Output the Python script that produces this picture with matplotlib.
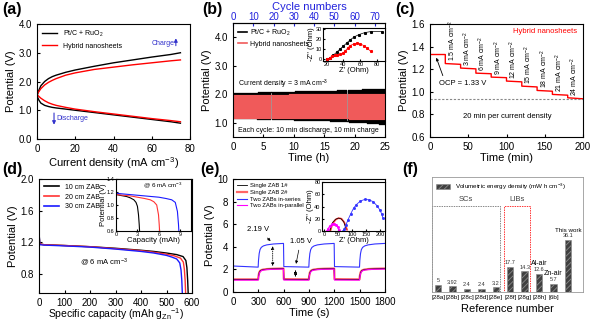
import numpy as np
import matplotlib
matplotlib.use('Agg')
import matplotlib.pyplot as plt
from matplotlib.patches import Rectangle, Patch

plt.rcParams['font.family'] = ['Liberation Sans', 'DejaVu Sans']
plt.rcParams['mathtext.default'] = 'regular'
plt.rcParams['axes.linewidth'] = 0.8
plt.rcParams['xtick.direction'] = 'in'
plt.rcParams['ytick.direction'] = 'in'
plt.rcParams['xtick.major.size'] = 2.5
plt.rcParams['ytick.major.size'] = 2.5
plt.rcParams['xtick.labelsize'] = 7
plt.rcParams['ytick.labelsize'] = 7
plt.rcParams['axes.labelsize'] = 8
plt.rcParams['hatch.linewidth'] = 0.6

# ---------------- data ----------------
# (a) polarization curves
cur_a = [0, 1, 2, 4, 6, 8, 10, 15, 20, 30, 40, 50, 60, 70, 75]
pt_charge = [1.5, 1.7, 1.85, 2.0, 2.1, 2.17, 2.22, 2.32, 2.4, 2.53, 2.65, 2.75, 2.85, 2.94, 3.0]
hy_charge = [1.55, 1.65, 1.75, 1.88, 1.97, 2.04, 2.1, 2.22, 2.3, 2.42, 2.5, 2.58, 2.65, 2.72, 2.75]
pt_dis = [1.5, 1.35, 1.25, 1.17, 1.13, 1.1, 1.08, 1.04, 1.0, 0.92, 0.84, 0.76, 0.68, 0.6, 0.55]
hy_dis = [1.55, 1.48, 1.42, 1.33, 1.26, 1.21, 1.17, 1.1, 1.04, 0.95, 0.87, 0.79, 0.71, 0.64, 0.6]

# (b) cycling, readings per hour (3 cycles per hour)
pt_low = [1.16, 1.16, 1.15, 1.15, 1.14, 1.14, 1.13, 1.13, 1.12, 1.12, 1.11, 1.1, 1.1,
          1.09, 1.08, 1.08, 1.07, 1.06, 1.05, 1.04, 1.03, 1.02, 1.0, 0.98, 0.95]
pt_high = [2.05, 2.05, 2.06, 2.06, 2.07, 2.07, 2.08, 2.08, 2.09, 2.09, 2.1, 2.1, 2.11,
           2.11, 2.12, 2.12, 2.13, 2.14, 2.14, 2.15, 2.16, 2.17, 2.18, 2.19, 2.2]
hy_low = [1.18, 1.18, 1.18, 1.18, 1.17, 1.17, 1.17, 1.17, 1.17, 1.16, 1.16, 1.16, 1.16,
          1.16, 1.15, 1.15, 1.15, 1.15, 1.15, 1.14, 1.14, 1.14, 1.13, 1.13, 1.12]
hy_high = [1.98, 1.98, 1.98, 1.98, 1.99, 1.99, 1.99, 1.99, 1.99, 2.0, 2.0, 2.0, 2.0,
           2.0, 2.0, 2.0, 2.01, 2.01, 2.01, 2.01, 2.01, 2.02, 2.02, 2.02, 2.02]
# (b) inset EIS
zre_pt = [21, 24, 28, 32, 36, 40, 44, 48, 53, 58, 65, 72, 86]
zim_pt = [0, 1.5, 4, 7, 10, 13, 16, 19, 22, 24, 26, 27, 27]
zre_hy = [21, 24, 27, 30, 33, 36, 39, 42, 45, 48, 52, 56, 60, 64, 68, 72]
zim_hy = [0, 1.5, 3, 4, 4.5, 5, 6, 8, 11, 13.5, 15, 15.5, 15, 13.5, 11, 8]

# (c) step discharge
step_cd = ['1.5', '3', '6', '9', '12', '15', '18', '21', '24']
step_start = [1.33, 1.25, 1.21, 1.165, 1.13, 1.095, 1.05, 1.012, 0.977, 0.947]
step_end = [1.33, 1.243, 1.203, 1.16, 1.125, 1.088, 1.043, 1.005, 0.97, 0.938]

# (d) discharge curves
cap_10 = [0, 3, 20, 100, 200, 300, 400, 450, 500, 540, 565, 576, 580, 583, 585]
v_10 = [1.33, 1.18, 1.17, 1.16, 1.145, 1.125, 1.1, 1.085, 1.065, 1.045, 1.02, 0.97, 0.88, 0.72, 0.56]
cap_20 = [0, 3, 20, 100, 200, 300, 400, 450, 500, 530, 555, 566, 570, 573, 575]
v_20 = [1.3, 1.18, 1.17, 1.16, 1.145, 1.12, 1.095, 1.075, 1.05, 1.03, 1.0, 0.95, 0.86, 0.72, 0.56]
cap_30 = [0, 3, 20, 100, 200, 300, 400, 450, 500, 520, 540, 552, 557, 560, 562]
v_30 = [1.33, 1.17, 1.165, 1.155, 1.14, 1.115, 1.085, 1.065, 1.035, 1.015, 0.99, 0.94, 0.85, 0.72, 0.56]
# (d) inset
icap_10 = [0, 0.1, 0.5, 1, 1.5, 2, 2.5, 2.8, 3.0, 3.15, 3.25, 3.3]
iv_10 = [1.2, 1.16, 1.15, 1.14, 1.13, 1.11, 1.08, 1.04, 0.98, 0.85, 0.7, 0.6]
icap_20 = [0, 0.1, 1, 2, 3, 4, 4.8, 5.3, 5.7, 5.95, 6.05, 6.1]
iv_20 = [1.2, 1.16, 1.15, 1.14, 1.12, 1.1, 1.08, 1.05, 1.0, 0.85, 0.7, 0.6]
icap_30 = [0, 0.1, 1, 2, 3, 4, 5, 6, 7, 7.8, 8.3, 8.6, 8.75, 8.8]
iv_30 = [1.22, 1.18, 1.17, 1.16, 1.15, 1.14, 1.13, 1.12, 1.1, 1.08, 1.04, 0.9, 0.7, 0.6]

# (e) single / series / parallel
t_e = [0, 298, 302, 310, 320, 335, 360, 400, 480, 598, 602, 898, 902, 910, 920, 935, 960,
       1000, 1080, 1198, 1202, 1498, 1502, 1510, 1520, 1535, 1560, 1600, 1680, 1800]
v_single1 = [1.1, 1.1, 1.4, 1.7, 1.85, 1.93, 1.98, 2.02, 2.05, 2.07, 1.12, 1.1, 1.4, 1.7, 1.85,
             1.93, 1.98, 2.02, 2.05, 2.07, 1.12, 1.1, 1.4, 1.7, 1.85, 1.93, 1.98, 2.02, 2.05, 2.08]
v_single2 = [1.12, 1.12, 1.42, 1.72, 1.86, 1.94, 1.99, 2.03, 2.06, 2.08, 1.14, 1.12, 1.42, 1.72, 1.86,
             1.94, 1.99, 2.03, 2.06, 2.08, 1.14, 1.12, 1.42, 1.72, 1.86, 1.94, 1.99, 2.03, 2.06, 2.08]
v_series = [2.3, 2.2, 2.8, 3.4, 3.75, 3.95, 4.08, 4.17, 4.25, 4.3, 2.25, 2.2, 2.8, 3.4, 3.75,
            3.95, 4.08, 4.17, 4.25, 4.3, 2.25, 2.2, 2.8, 3.4, 3.75, 3.95, 4.08, 4.17, 4.25, 4.3]
v_parallel = [1.05, 1.05, 1.3, 1.6, 1.78, 1.88, 1.94, 1.98, 2.01, 2.03, 1.06, 1.05, 1.3, 1.6, 1.78,
              1.88, 1.94, 1.98, 2.01, 2.03, 1.06, 1.05, 1.3, 1.6, 1.78, 1.88, 1.94, 1.98, 2.01, 2.03]
# (e) inset EIS
zre_s1 = [20, 25, 30, 40, 50, 60, 70, 75, 78]
zim_s1 = [0, 8, 14, 19, 21, 20, 15, 8, 3]
zre_s2 = [22, 27, 33, 42, 52, 62, 72, 78, 82]
zim_s2 = [0, 8, 14, 19, 21, 20, 14, 7, 2]
zre_ser = [68, 72, 78, 85, 95, 105, 115, 130, 145, 160, 175, 190, 200, 207, 210]
zim_ser = [0, 3, 10, 18, 28, 37, 43, 49, 51.5, 51, 48, 41, 34, 27, 22]
zre_par = [10, 14, 20, 28, 36, 44, 50, 53]
zim_par = [0, 4, 8, 11, 12, 10, 6, 2]

# (f) volumetric energy density
refs = ['[28a]', '[28b]', '[28c]', '[28d]', '[28e]', '[28f]', '[28g]', '[28h]', '[6b]', '']
energy = [5, 3.92, 2.4, 2.4, 3.2, 17.7, 14.3, 12.6, 5.7, 36.1]
energy_txt = ['5', '3.92', '2.4', '2.4', '3.2', '17.7', '14.3', '12.6', '5.7', '36.1']

# ---------------- figure ----------------
W, H = 600, 323
fig = plt.figure(figsize=(6, 3.23), dpi=100)


def px_axes(x0, y0, x1, y1):
    return fig.add_axes([x0 / W, 1 - y1 / H, (x1 - x0) / W, (y1 - y0) / H])


def plab(x, y, s):
    fig.text(x / W, 1 - y / H, s, fontsize=11.5, fontweight='bold', va='top', ha='left')


RED = '#ff0000'
BLUE = '#1a1aff'

# (a)
ax = px_axes(37, 24, 190, 139)
ax.plot(cur_a, pt_charge, color='k', lw=1)
ax.plot(cur_a, hy_charge, color=RED, lw=1)
ax.plot(cur_a, pt_dis, color='k', lw=1, label='Pt/C + RuO$_2$')
ax.plot(cur_a, hy_dis, color=RED, lw=1, label='Hybrid nanosheets')
ax.set_xlim(0, 80)
ax.set_ylim(0, 4)
ax.set_yticks([0, 1, 2, 3, 4])
ax.set_yticklabels(['0.0', '1.0', '2.0', '3.0', '4.0'])
ax.set_xlabel('Current density (mA cm$^{-3}$)', labelpad=1)
ax.set_ylabel('Potential (V)', labelpad=2)
ax.legend(loc='upper left', fontsize=5, frameon=False, handlelength=2.2,
          borderaxespad=0.3, labelspacing=0.5)
ax.text(60, 3.33, 'Charge', color='#3333cc', fontsize=5, va='center')
ax.annotate('', xy=(72.6, 3.6), xytext=(72.6, 3.15),
            arrowprops=dict(arrowstyle='-|>', color='#3333cc', lw=0.8, mutation_scale=5))
ax.text(10, 0.7, 'Discharge', color='#3333cc', fontsize=5, va='center')
ax.annotate('', xy=(8.9, 0.4), xytext=(8.9, 1.0),
            arrowprops=dict(arrowstyle='-|>', color='#3333cc', lw=0.8, mutation_scale=5))
plab(2, 2, '(a)')

# (b)
ax = px_axes(233, 23, 385, 137)


def square_wave(lows, highs):
    lo = np.repeat(lows, 3)
    hi = np.repeat(highs, 3)
    t, v = [], []
    for i in range(len(lo)):
        t += [i * 20, i * 20 + 10, i * 20 + 10, i * 20 + 20]
        v += [lo[i], lo[i], hi[i], hi[i]]
    return np.array(t) / 60.0, np.array(v)


tb, vb = square_wave(pt_low, pt_high)
tr, vr = square_wave(hy_low, hy_high)
ax.plot(tb, vb, color='k', lw=1.0, label='Pt/C + RuO$_2$')
ax.plot(tr, vr, color='#f05a5a', lw=0.9, label='Hybrid nanosheets')
ax.set_xlim(0, 25)
ax.set_ylim(0.5, 4.5)
ax.set_yticks([1, 2, 3, 4])
ax.set_yticklabels(['1.0', '2.0', '3.0', '4.0'])
ax.set_xticks([0, 5, 10, 15, 20, 25])
ax.set_xlabel('Time (h)', labelpad=1)
ax.set_ylabel('Potential (V)', labelpad=2)
leg = ax.legend(loc='upper left', fontsize=5, frameon=False, handlelength=1.3,
                handletextpad=0.5, borderaxespad=0.3, labelspacing=0.4)
for ln in leg.get_lines():
    ln.set_linewidth(1.2)
ax.text(0.8, 2.35, 'Current density = 3 mA cm$^{-3}$', fontsize=5, va='center')
ax.text(0.8, 0.72, 'Each cycle: 10 min discharge, 10 min charge', fontsize=5, va='center')
top = ax.secondary_xaxis('top', functions=(lambda h: h * 3, lambda c: c / 3))
top.set_xticks([0, 10, 20, 30, 40, 50, 60, 70])
top.tick_params(colors='#2222dd', direction='in', labelsize=7, pad=1)
top.set_xlabel('Cycle numbers', color='#2222dd', fontsize=8, labelpad=1)
# inset
axi = px_axes(323, 28, 385, 61)
axi.plot(zre_pt, zim_pt, color='k', lw=0.5, marker='s', ms=1.2)
axi.plot(zre_hy, zim_hy, color=RED, lw=0.5, marker='s', ms=1.2)
axi.set_xlim(16, 89)
axi.set_ylim(-1.5, 30.5)
axi.set_xticks([20, 40, 60, 80])
axi.set_yticks([0, 10, 20, 30])
axi.tick_params(labelsize=4, length=1.5, pad=1)
axi.set_xlabel("Z' (Ohm)", fontsize=5.5, labelpad=0)
axi.set_ylabel("-Z'' (Ohm)", fontsize=5.5, labelpad=0)
plab(202, 2, '(b)')

# (c)
ax = px_axes(430, 24, 583, 137)
tc, vc = [], []
for i in range(len(step_start)):
    tc += [i * 20, i * 20 + 20]
    vc += [step_start[i], step_end[i]]
ax.plot(tc, vc, color=RED, lw=1)
ax.axhline(0.935, color='#888888', lw=0.8, ls=(0, (2, 1.5)))
ax.set_xlim(0, 200)
ax.set_ylim(0.6, 1.6)
ax.set_yticks([0.6, 0.8, 1.0, 1.2, 1.4, 1.6])
ax.set_yticklabels(['0.6', '0.8', '1.0', '1.2', '1.4', '1.6'])
ax.set_xticks([0, 50, 100, 150, 200])
ax.set_xlabel('Time (min)', labelpad=1)
ax.set_ylabel('Potential (V)', labelpad=2)
for i, cd in enumerate(step_cd):
    ax.text(29 + i * 20, step_start[i + 1] + 0.02, cd + ' mA cm$^{-2}$', rotation=90,
            fontsize=5, ha='center', va='bottom')
ax.text(150, 1.53, 'Hybrid nanosheets', color=RED, fontsize=5.5, ha='center', va='center')
ax.text(12, 1.07, 'OCP = 1.33 V', fontsize=5.5, va='center')
ax.annotate('', xy=(7, 1.325), xytext=(18, 1.12),
            arrowprops=dict(arrowstyle='-|>', color='k', lw=0.6, mutation_scale=4))
ax.text(101, 0.78, '20 min per current density', fontsize=5.5, ha='center', va='center')
plab(395, 2, '(c)')

# (d)
ax = px_axes(39, 179, 192, 293)
ax.plot(cap_10, v_10, color='k', lw=1, label='10 cm ZAB')
ax.plot(cap_20, v_20, color='#ff3333', lw=1, label='20 cm ZAB')
ax.plot(cap_30, v_30, color=BLUE, lw=1, label='30 cm ZAB')
ax.set_xlim(0, 600)
ax.set_ylim(0.56, 2.0)
ax.set_yticks([0.8, 1.2, 1.6, 2.0])
ax.set_xticks([0, 100, 200, 300, 400, 500, 600])
ax.set_xlabel('Specific capacity (mAh g$_{Zn}$$^{-1}$)', labelpad=-1, fontsize=7.5)
ax.set_ylabel('Potential (V)', labelpad=2)
leg = ax.legend(loc='upper left', fontsize=5, frameon=False, handlelength=2.2,
                borderaxespad=0.3, labelspacing=0.4)
for ln in leg.get_lines():
    ln.set_linewidth(1.2)
ax.text(255, 0.95, '@ 6 mA cm$^{-3}$', fontsize=5.5, ha='center', va='center')
axi = px_axes(116, 179, 191, 231)
axi.plot(icap_10, iv_10, color='k', lw=0.8)
axi.plot(icap_20, iv_20, color='#ff3333', lw=0.8)
axi.plot(icap_30, iv_30, color=BLUE, lw=0.8)
axi.set_xlim(0, 10.5)
axi.set_ylim(0.6, 1.4)
axi.set_xticks([0, 3, 6, 9])
axi.set_yticks([0.6, 0.8, 1.0, 1.2, 1.4])
axi.set_yticklabels(['0.6', '0.8', '1.0', '1.2', '1.4'])
axi.tick_params(labelsize=4, length=1.5, pad=1)
axi.set_xlabel('Capacity (mAh)', fontsize=5.5, labelpad=0)
axi.set_ylabel('Potential (V)', fontsize=5.5, labelpad=0)
axi.text(6.5, 1.3, '@ 6 mA cm$^{-3}$', fontsize=4.5, ha='center', va='center')
plab(2, 162, '(d)')

# (e)
ax = px_axes(233, 179, 385, 292)
ax.plot(t_e, v_single2, color='#ff6666', lw=1.6, label='Single ZAB 2#')
ax.plot(t_e, v_single1, color='k', lw=0.6, label='Single ZAB 1#')
ax.plot(t_e, v_series, color='#3333ff', lw=0.8, label='Two ZABs in-series')
ax.plot(t_e, v_parallel, color='#ff00ff', lw=0.8, label='Two ZABs in-parallel')
ax.set_xlim(0, 1800)
ax.set_ylim(0, 10)
ax.set_xticks([0, 300, 600, 900, 1200, 1500, 1800])
ax.set_yticks([0, 2, 4, 6, 8, 10])
ax.set_xlabel('Time (s)', labelpad=1)
ax.set_ylabel('Potential (V)', labelpad=2)
h, l = ax.get_legend_handles_labels()
ax.legend([h[1], h[0], h[2], h[3]], [l[1], l[0], l[2], l[3]], loc='upper left', fontsize=4.2,
          frameon=False, handlelength=1.8, handletextpad=0.5, borderaxespad=0.25,
          labelspacing=0.3)
ax.annotate('', xy=(470, 4.3), xytext=(470, 2.05),
            arrowprops=dict(arrowstyle='<|-|>', color='k', lw=0.6, ls=':', mutation_scale=4))
ax.annotate('', xy=(740, 2.2), xytext=(740, 1.08),
            arrowprops=dict(arrowstyle='<|-|>', color='k', lw=0.6, ls=':', mutation_scale=4))
ax.annotate('2.19 V', xy=(470, 4.35), xytext=(300, 5.5), fontsize=5.5, ha='center', va='center',
            arrowprops=dict(arrowstyle='-|>', color='k', lw=0.5, mutation_scale=4))
ax.annotate('1.05 V', xy=(740, 2.25), xytext=(800, 4.5), fontsize=5.5, ha='center', va='center',
            arrowprops=dict(arrowstyle='-|>', color='k', lw=0.5, mutation_scale=4))
axi = px_axes(322, 182, 385, 231)
axi.plot(zre_s2, zim_s2, color='#ff3333', lw=1.2)
axi.plot(zre_s1, zim_s1, color='k', lw=0.5)
axi.plot(zre_ser, zim_ser, color='#3333ff', lw=0.6, marker='s', ms=1)
axi.plot(zre_par, zim_par, color='#ff00ff', lw=0.8, marker='s', ms=1)
axi.set_xlim(-8, 218)
axi.set_ylim(0, 80)
axi.set_xticks([0, 50, 100, 150, 200])
axi.set_yticks([0, 20, 40, 60, 80])
axi.tick_params(labelsize=4, length=1.5, pad=1)
axi.set_xlabel("Z' (Ohm)", fontsize=5.5, labelpad=0)
axi.set_ylabel("-Z'' (Ohm)", fontsize=5.5, labelpad=0)
plab(200, 162, '(e)')

# (f)
ax = px_axes(432, 177, 583, 292)
xs = np.arange(len(energy))
ax.bar(xs, energy, width=0.45, color='#404040', edgecolor='#8a8a8a', hatch='//////', lw=0.4)
ax.set_xlim(-0.42, 10.04)
ax.set_ylim(0, 80)
ax.set_yticks([])
ax.set_xticks(xs[:-1])
ax.set_xticklabels(refs[:-1], fontsize=4.5)
ax.tick_params(axis='x', length=0, pad=2)
for s in ax.spines.values():
    s.set_color('#999999')
    s.set_linewidth(0.6)
ax.set_xlabel('Reference number', labelpad=3)
for x, v, t in zip(xs, energy, energy_txt):
    ax.text(x, v + 1.2, t, fontsize=4, ha='center', va='bottom', color='#333333')
ax.text(7, 17.5, 'Al-air', fontsize=5, ha='center', va='bottom')
ax.text(8, 10.2, 'Zn-air', fontsize=5, ha='center', va='bottom')
ax.text(9, 41, 'This work', fontsize=4.5, ha='center', va='bottom')
ax.add_patch(Rectangle((-0.4, 0.3), 4.7, 59.7, fill=False, ec='#888888', lw=0.7, ls=(0, (1.5, 1))))
ax.add_patch(Rectangle((4.6, 0.3), 1.8, 59.7, fill=False, ec='#ff3333', lw=0.7, ls=(0, (1.5, 1))))
ax.text(1.95, 62, 'SCs', fontsize=5.5, ha='center', va='bottom', color='#444444')
ax.text(5.5, 62, 'LIBs', fontsize=5.5, ha='center', va='bottom', color='#444444')
ax.legend([Patch(facecolor='#404040', edgecolor='#8a8a8a', hatch='//////', lw=0.4)],
          ['Volumetric energy density (mW h cm$^{-3}$)'], loc='upper left', fontsize=4.5,
          frameon=False, handlelength=2.2, handleheight=1.0, borderaxespad=0.3)
plab(402, 162, '(f)')

fig.savefig('out.png', dpi=100)
